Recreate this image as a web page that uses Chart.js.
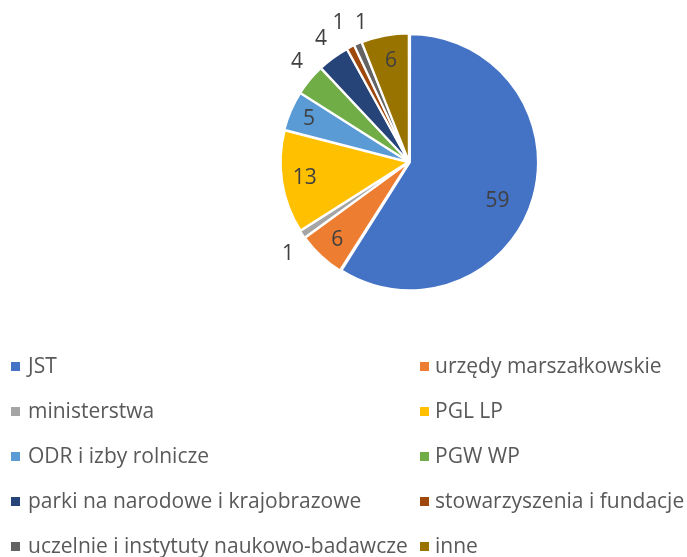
<!DOCTYPE html>
<html>
<head>
<meta charset="utf-8">
<script src="https://cdn.jsdelivr.net/npm/chart.js@4/dist/chart.umd.min.js"></script>
<style>
    body { margin: 0; background: #fff; }
    #wrap { position: relative; width: 687px; height: 557px; }
    #pie { position: absolute; left: 0; top: 0; }
    .item {
        position: absolute; height: 21px; line-height: 21px; white-space: nowrap;
        font-family: "Open Sans", sans-serif; font-size: 21px; color: #595959;
    }
    .box { position: absolute; top: 7px; width: 9px; height: 9px; }
    .txt { position: absolute; top: 0; }
</style>
</head>
<body>
<div id="wrap">
    <canvas id="pie" width="687" height="557"></canvas>
</div>
<script>
// Data
const categories = [
    "JST", "urzędy marszałkowskie", "ministerstwa", "PGL LP", "ODR i izby rolnicze",
    "PGW WP", "parki na narodowe i krajobrazowe", "stowarzyszenia i fundacje",
    "uczelnie i instytuty naukowo-badawcze", "inne"
];
const values = [59, 6, 1, 13, 5, 4, 4, 1, 1, 6];
const colors = [
    "#4472C4", "#ED7D31", "#A5A5A5", "#FFC000", "#5B9BD5",
    "#70AD47", "#264478", "#9E480E", "#636363", "#997300"
];

// where each value label sits: fraction of the radius, and turn (degrees) off the slice middle
const labelRadius = [0.76, 0.83, 1.19, 0.83, 0.86, 1.185, 1.2, 1.234, 1.165, 0.815];
const labelTurn = [7.2, -0.3, -2.6, 0.6, 0.3, 2.3, 0.7, 0.3, 4.5, 0.8];

const sliceLabels = {
    id: "sliceLabels",
    afterDatasetsDraw(chart) {
        const ctx = chart.ctx;
        const meta = chart.getDatasetMeta(0);
        ctx.save();
        ctx.font = '21px "Open Sans", sans-serif';
        ctx.fillStyle = "#404040";
        ctx.textAlign = "center";
        ctx.textBaseline = "middle";
        meta.data.forEach((arc, i) => {
            const p = arc.getProps(["x", "y", "startAngle", "endAngle", "outerRadius"], true);
            const mid = (p.startAngle + p.endAngle) / 2 + labelTurn[i] * Math.PI / 180;
            const r = p.outerRadius * labelRadius[i];
            ctx.fillText(String(values[i]), p.x + Math.cos(mid) * r, p.y + Math.sin(mid) * r + 1);
        });
        ctx.restore();
    }
};

new Chart(document.getElementById("pie"), {
    type: "pie",
    data: {
        labels: categories,
        datasets: [{
            data: values,
            backgroundColor: colors,
            borderColor: "#ffffff",
            borderWidth: 2,
            offset: 4
        }]
    },
    options: {
        responsive: false,
        animation: false,
        radius: 127,
        layout: { padding: { left: 141, right: 10, top: 0, bottom: 233 } },
        plugins: {
            legend: { display: false },
            tooltip: { enabled: false }
        }
    },
    plugins: [sliceLabels]
});

// legend: two columns, five rows
const wrap = document.getElementById("wrap");
categories.forEach((name, i) => {
    const col = i % 2, row = Math.floor(i / 2);
    const item = document.createElement("div");
    item.className = "item";
    item.style.left = (col ? 420 : 11) + "px";
    item.style.top = (355 + row * 45) + "px";
    const box = document.createElement("span");
    box.className = "box";
    box.style.left = "0px";
    box.style.background = colors[i];
    const txt = document.createElement("span");
    txt.className = "txt";
    txt.style.left = (col ? 15 : 17) + "px";
    txt.textContent = name;
    item.appendChild(box);
    item.appendChild(txt);
    wrap.appendChild(item);
});
</script>
</body>
</html>
